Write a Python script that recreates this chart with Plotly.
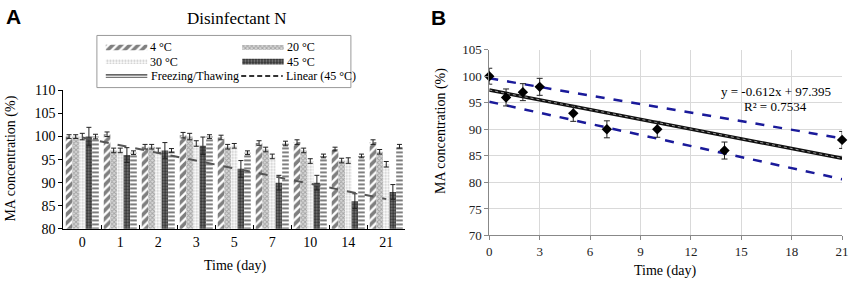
import numpy as np
import plotly.graph_objects as go

# ---------------- data ----------------
days = ["0", "1", "2", "3", "5", "7", "10", "14", "21"]
c4 = [100, 100.5, 97.8, 100.3, 99.8, 98.6, 98.8, 97.3, 98.8]
c4_err = [0.4, 0.5, 0.5, 0.6, 0.5, 0.5, 0.5, 0.4, 0.5]
c20 = [100, 97, 97.8, 100, 97.8, 97.2, 97, 94.8, 96.7]
c20_err = [0.4, 0.5, 0.5, 0.7, 0.5, 0.5, 0.5, 0.5, 0.5]
c30 = [100, 97, 97, 98.5, 98, 95.7, 94.7, 94.8, 94]
c30_err = [0.7, 0.5, 0.5, 0.6, 0.5, 0.5, 0.5, 0.6, 0.6]
c45 = [100, 96, 97, 98, 93, 90, 90, 86, 88]
c45_err = [2, 1.6, 1.7, 1.9, 1.8, 1.6, 1.6, 1.6, 1.6]
ft = [100, 96.5, 97, 100, 96.5, 98.5, 95.8, 95.8, 97.9]
ft_err = [0.5, 0.4, 0.4, 0.4, 0.4, 0.5, 0.4, 0.4, 0.4]

b_days = [0, 1, 2, 3, 5, 7, 10, 14, 21]
b_conc = [100, 96, 97, 98, 93, 90, 90, 86, 88]
b_err = [1.5, 1.6, 1.6, 1.6, 1.5, 1.6, 1.5, 1.6, 1.6]
b_bound_x = [0, 21]
b_upper = [99.6, 88.3]
b_lower = [95.2, 80.6]

SERIF = "Liberation Serif"
SANS = "Liberation Sans"
W, H = 858, 289


def px(x):
    return x / W


def py(y):
    return 1 - y / H


fig = go.Figure()

# ---------------- panel A ----------------
pat4 = dict(shape="/", fgcolor="#000", bgcolor="white", size=6, solidity=0.6)
pat20 = dict(shape="x", fgcolor="#6e6e6e", bgcolor="#d8d8d8", size=3, solidity=0.5)
pat30 = dict(shape=".", fgcolor="#8a8a8a", bgcolor="white", size=3, solidity=0.4)
pat45 = dict(shape=".", fgcolor="#e8e8e8", bgcolor="#333", size=3, solidity=0.35)
patft = dict(shape="-", fgcolor="#000", bgcolor="white", size=4, solidity=0.5)

bar_specs = [
    ("4 °C", c4, c4_err, pat4),
    ("20 °C", c20, c20_err, pat20),
    ("30 °C", c30, c30_err, pat30),
    ("45 °C", c45, c45_err, pat45),
    ("Freezing/Thawing", ft, ft_err, patft),
]
for name, vals, errs, pat in bar_specs:
    fig.add_trace(go.Bar(
        x=days, y=vals, name=name, showlegend=False,
        marker=dict(color="white", line=dict(width=0), pattern=pat),
        error_y=dict(type="data", array=errs, color="#222", thickness=1, width=2.5),
        xaxis="x", yaxis="y",
    ))

idx = np.arange(1, len(days) + 1)
coef_a = np.polyfit(idx, c45, 1)
fig.add_trace(go.Scatter(
    x=days, y=np.polyval(coef_a, idx), mode="lines", name="Linear (45 °C)", showlegend=False,
    line=dict(color="#555", width=2, dash="dash"),
    xaxis="x", yaxis="y",
))

# ---------------- manual legend for panel A (x3/y3 in pixel units) ----------------
leg_swatches = [
    (104, 42.7, pat4, 6),
    (242, 42.7, pat20, 5),
    (104, 57.7, pat30, 5),
    (242, 57.7, pat45, 6),
]
for x0, yc, pat, hgt in leg_swatches:
    fig.add_trace(go.Bar(
        orientation="h", x=[42], base=[x0], y=[yc], width=[hgt], offset=-hgt / 2,
        marker=dict(color="white", line=dict(width=0), pattern=pat),
        showlegend=False, hoverinfo="skip", xaxis="x3", yaxis="y3",
    ))
fig.add_trace(go.Scatter(x=[104, 146], y=[71.6, 71.6], mode="lines", showlegend=False, hoverinfo="skip",
                         line=dict(color="#333", width=1.2), xaxis="x3", yaxis="y3"))
fig.add_trace(go.Scatter(x=[104, 146], y=[74.2, 74.2], mode="lines", showlegend=False, hoverinfo="skip",
                         line=dict(color="#777", width=1.2), xaxis="x3", yaxis="y3"))
fig.add_trace(go.Scatter(x=[241, 283], y=[72.7, 72.7], mode="lines", showlegend=False, hoverinfo="skip",
                         line=dict(color="#333", width=2, dash="5px,3px"), xaxis="x3", yaxis="y3"))

# ---------------- panel B ----------------
fig.add_trace(go.Scatter(x=b_bound_x, y=b_upper, mode="lines", showlegend=False,
                         line=dict(color="#1a1a9a", width=2.5, dash="dash"), xaxis="x2", yaxis="y2"))
fig.add_trace(go.Scatter(x=b_bound_x, y=b_lower, mode="lines", showlegend=False,
                         line=dict(color="#1a1a9a", width=2.5, dash="dash"), xaxis="x2", yaxis="y2"))
coef_b = np.polyfit(b_days, b_conc, 1)
fx = np.array([0, 21])
fig.add_trace(go.Scatter(x=fx, y=np.polyval(coef_b, fx), mode="lines", showlegend=False,
                         line=dict(color="#111", width=3.5), xaxis="x2", yaxis="y2"))
fig.add_trace(go.Scatter(x=fx, y=np.polyval(coef_b, fx), mode="lines", showlegend=False,
                         line=dict(color="#9a9a9a", width=1, dash="dot"), xaxis="x2", yaxis="y2"))
fig.add_trace(go.Scatter(
    x=b_days, y=b_conc, mode="markers", showlegend=False,
    marker=dict(symbol="diamond", color="black", size=8),
    error_y=dict(type="data", array=b_err, color="#222", thickness=1, width=3),
    xaxis="x2", yaxis="y2", cliponaxis=False,
))

tickfont_a = dict(family=SERIF, size=14, color="black")
tickfont_b = dict(family=SERIF, size=13, color="#222")

fig.update_layout(
    width=W, height=H,
    margin=dict(l=0, r=0, t=0, b=0),
    font=dict(family=SERIF, size=13, color="black"),
    paper_bgcolor="white", plot_bgcolor="white",
    barmode="group", bargap=0.13, bargroupgap=0,
    showlegend=False,
    xaxis=dict(domain=[px(61), px(407)], type="category", showline=True, linecolor="black",
               linewidth=1, ticks="inside", tickson="boundaries", ticklen=4, tickcolor="black",
               tickfont=tickfont_a, showgrid=False, anchor="y", fixedrange=True),
    yaxis=dict(domain=[py(234), py(88)], range=[80, 110], dtick=5, showline=True, linecolor="black",
               linewidth=1, ticks="outside", ticklen=4, tickcolor="black", tickfont=tickfont_a,
               showgrid=False, zeroline=False, anchor="x", fixedrange=True),
    xaxis2=dict(domain=[px(492), px(849)], range=[0, 21], tickvals=[0, 3, 6, 9, 12, 15, 18, 21],
                showline=True, linecolor="#888", linewidth=1, ticks="outside", ticklen=4,
                tickcolor="#888", tickfont=tickfont_b, showgrid=True, gridcolor="#d9d9d9",
                zeroline=False, anchor="y2", fixedrange=True),
    yaxis2=dict(domain=[py(241), py(45)], range=[70, 105], dtick=5, showline=True, linecolor="#888",
                linewidth=1, ticks="outside", ticklen=4, tickcolor="#888", tickfont=tickfont_b,
                showgrid=True, gridcolor="#d9d9d9", zeroline=False, anchor="x2", fixedrange=True),
    xaxis3=dict(domain=[px(95), px(352)], range=[95, 352], visible=False, fixedrange=True, anchor="y3"),
    yaxis3=dict(domain=[py(85), py(30)], range=[85, 30], visible=False, fixedrange=True, anchor="x3"),
    shapes=[dict(type="rect", xref="paper", yref="paper", x0=px(95), x1=px(352), y0=py(85), y1=py(30),
                 line=dict(color="#999", width=1), fillcolor="rgba(0,0,0,0)", layer="below")],
)

legend_texts = [
    ("4 °C", 147, 42.7), ("20 °C", 285, 42.7),
    ("30 °C", 147, 57.7), ("45 °C", 285, 57.7),
    ("Freezing/Thawing", 148, 72.7), ("Linear (45 °C)", 284, 72.7),
]

annots = [
    dict(text="<b>A</b>", x=px(1), y=py(10), xanchor="left", font=dict(family=SANS, size=21, color="black")),
    dict(text="<b>B</b>", x=px(431), y=py(11), xanchor="left", font=dict(family=SANS, size=21, color="black")),
    dict(text="Disinfectant N", x=px(237), y=py(12), font=dict(family=SERIF, size=17, color="black")),
    dict(text="MA concentration (%)", x=px(8), y=py(160), textangle=-90,
         font=dict(family=SERIF, size=14, color="black")),
    dict(text="Time (day)", x=px(235), y=py(273), font=dict(family=SERIF, size=14, color="black")),
    dict(text="MA concentration (%)", x=px(443), y=py(131), textangle=-90,
         font=dict(family=SERIF, size=14, color="black")),
    dict(text="Time (day)", x=px(670), y=py(278), font=dict(family=SERIF, size=14, color="black")),
    dict(text="y = -0.612x + 97.395", x=px(782), y=py(89), font=dict(family=SERIF, size=13, color="black")),
    dict(text="R² = 0.7534", x=px(782), y=py(105), font=dict(family=SERIF, size=13, color="black")),
]
for t, x, y in legend_texts:
    annots.append(dict(text=t, x=px(x), y=py(y), xanchor="left",
                       font=dict(family=SERIF, size=12, color="black")))
for a in annots:
    a.update(xref="paper", yref="paper", showarrow=False)
    a.setdefault("xanchor", "center")
    a.setdefault("yanchor", "middle")
    fig.add_annotation(**a)

fig.write_html(
    "out.html",
    config={"displayModeBar": False},
    post_script="document.body.style.margin='0';document.body.style.padding='0';"
                "document.body.style.overflow='hidden';",
)
